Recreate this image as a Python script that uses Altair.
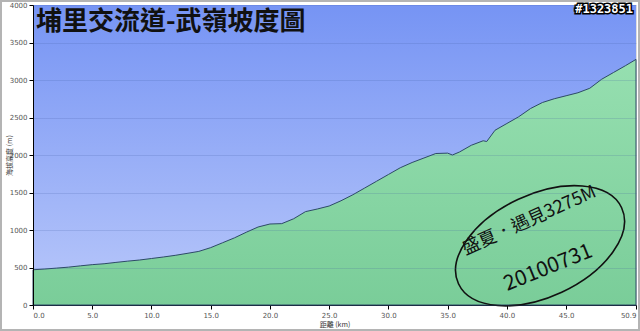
import altair as alt
import pandas as pd

km = [0, 1, 2, 3, 4, 5, 6, 7, 8, 9, 10, 11, 12, 13, 14, 15, 16, 17, 18, 19, 20,
      21, 22, 23, 24, 25, 26, 27, 28, 29, 30, 31, 32, 33, 34, 35, 35.4, 36, 37,
      38, 38.3, 39, 40, 41, 42, 43, 44, 45, 46, 47, 48, 49, 50, 50.9]
elev = [470, 480, 492, 505, 522, 538, 550, 568, 585, 600, 620, 640, 662, 688,
        715, 765, 830, 895, 970, 1040, 1080, 1085, 1150, 1245, 1280, 1320, 1390,
        1470, 1560, 1650, 1740, 1830, 1900, 1960, 2020, 2025, 2000, 2040, 2130,
        2190, 2180, 2330, 2420, 2510, 2620, 2700, 2750, 2790, 2830, 2890, 3010,
        3100, 3190, 3275]

x_ticks = [0, 5, 10, 15, 20, 25, 30, 35, 40, 45, 50.9]
y_ticks = [0, 500, 1000, 1500, 2000, 2500, 3000, 3500, 4000]

title_text = "埔里交流道-武嶺坡度圖"
id_text = "#1323851"
note_lines = ["盛夏．遇見3275M", "20100731"]
note_km = [41.9, 43.5]
note_elev = [1120, 493]
note_angle = [336, 338]
note_size = [18, 21]
ellipse_km = [42.8]
ellipse_elev = [790]

W, H = 603, 300

df = pd.DataFrame({"km": km, "elev": elev})
notes = pd.DataFrame({"t": note_lines, "km": note_km, "elev": note_elev,
                      "a": note_angle, "s": note_size})
ell = pd.DataFrame({"km": ellipse_km, "elev": ellipse_elev})

xs = alt.Scale(domain=[0, 50.9], nice=False, zero=False)
ys = alt.Scale(domain=[0, 4000], nice=False)

x_axis = alt.Axis(values=x_ticks, format=".1f", title="距離 (km)",
                  labelFontSize=7, labelColor="#555", titleFontSize=7,
                  titleFontWeight="normal", titleColor="#333", titlePadding=2,
                  domainColor="black", tickColor="black", tickSize=4,
                  labelPadding=2, grid=False, labelFont="DejaVu Sans",
                  titleFont="Noto Sans CJK TC", labelOverlap=False)
y_axis = alt.Axis(values=y_ticks, format="d", title="海拔高度 (m)",
                  labelFontSize=7, labelColor="#555", titleFontSize=7,
                  titleFontWeight="normal", titleColor="#333",
                  titleX=-24, titleY=H / 2, titleAlign="center",
                  titleBaseline="middle", titleAngle=270,
                  domainColor="black", tickColor="black", tickSize=4,
                  labelPadding=2, grid=True, gridColor="#3c5aa0",
                  gridOpacity=0.18, gridWidth=1, labelFont="DejaVu Sans",
                  titleFont="Noto Sans CJK TC", zindex=1, labelOverlap=False)

X = lambda: alt.X("km:Q", scale=xs, axis=x_axis)
Y = lambda: alt.Y("elev:Q", scale=ys, axis=y_axis)

bg = alt.Chart(pd.DataFrame({"d": [0]})).mark_rect(
    fill=alt.Gradient(gradient="linear", x1=0, y1=0, x2=0, y2=1,
                      stops=[alt.GradientStop(offset=0, color="#7694f4"),
                             alt.GradientStop(offset=1, color="#b9c8fa")])
).encode(x=alt.value(0), x2=alt.value(W), y=alt.value(0), y2=alt.value(H))

frame = alt.Chart(pd.DataFrame({"d": [0]})).mark_rect(
    fill=None, stroke="#b4b4b4", strokeWidth=2, clip=False
).encode(x=alt.value(-32), x2=alt.value(W + 3), y=alt.value(-4), y2=alt.value(H + 25))

area = alt.Chart(df).mark_area(
    fill=alt.Gradient(gradient="linear", x1=0, y1=0, x2=0, y2=1,
                      stops=[alt.GradientStop(offset=0, color="#96dfb0"),
                             alt.GradientStop(offset=1, color="#7acd99")]),
    stroke="#2d4a66", strokeWidth=1, line=False
).encode(x=X(), y=Y())

ellipse = alt.Chart(ell).mark_point(
    shape="M -1 0 A 1 0.57 0 1 1 1 0 A 1 0.57 0 1 1 -1 0 Z",
    filled=False, stroke="#111", strokeWidth=1.6, size=180 * 180, angle=335,
    opacity=1
).encode(x=X(), y=Y())

note = alt.Chart(notes).mark_text(
    font="Noto Sans CJK TC", color="#111", align="center", baseline="middle"
).encode(x=X(), y=Y(),
         text="t:N", angle=alt.Angle("a:Q", scale=None),
         size=alt.Size("s:Q", scale=None))

title = alt.Chart(pd.DataFrame({"t": [title_text]})).mark_text(
    font="Noto Sans CJK TC", fontWeight="bold", fontSize=26, color="#111",
    align="left", baseline="middle"
).encode(x=alt.value(3), y=alt.value(17), text="t:N")

id_shadow = alt.Chart(pd.DataFrame({"t": [id_text]})).mark_text(
    font="DejaVu Sans Mono", fontWeight="bold", fontSize=12, fill="black",
    stroke="black", strokeWidth=3, align="right", baseline="middle", clip=False
).encode(x=alt.value(600), y=alt.value(4), text="t:N")
id_top = alt.Chart(pd.DataFrame({"t": [id_text]})).mark_text(
    font="DejaVu Sans Mono", fontWeight="bold", fontSize=12, fill="white",
    align="right", baseline="middle", clip=False
).encode(x=alt.value(600), y=alt.value(4), text="t:N")

chart = alt.layer(bg, area, ellipse, note, title, id_shadow, id_top, frame).properties(
    width=W, height=H, autosize="none",
    padding={"left": 33, "top": 5, "right": 4, "bottom": 26}
).configure_view(stroke=None).configure(background="white")

chart.save("out.html", embed_options={"renderer": "svg", "actions": False})
